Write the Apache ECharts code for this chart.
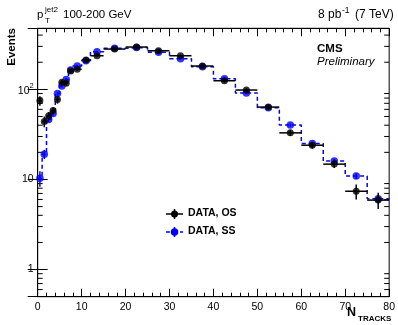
<!DOCTYPE html>
<html><head><meta charset="utf-8">
<script src="https://cdn.jsdelivr.net/npm/echarts@6/dist/echarts.min.js"></script>
<style>html,body{margin:0;padding:0;background:#fff}#c{width:398px;height:325px}</style>
</head><body><div id="c"></div>
<script>
// ---- data ----
const binEdges = [0,1,2,3,4,5,6,7,8,10,12,15,20,25,30,35,40,45,50,55,60,65,70,75,80];
const osValues = [74.7,44,50.9,58.4,77.4,120,117,160,167,212,236,280,295,268,236,181.6,124.6,98.3,63.6,32.9,24,14.8,7.4,5.9];
const osErrors = [9,6,5,5,8,7,7,8,7,8,8,8,8,8,7,6,5,5,4,2.5,2,1.4,1.4,1.2];
const ssValues = [10.3,19.1,46.4,54,90,109,129,164,181.6,208,262,286,291,258,219,178,131,91,62.7,40.1,25.1,16,10.9,6.1];
const ssErrors = [2,2.2,3,3,4,4,4,5,5,5,6,6,6,6,5,5,4,3,2.5,1.5,1.2,1,0.8,0.6];
const xTickInterval = 10;
const logMinorTicks = [0.6,0.7,0.8,0.9,2,3,4,5,6,7,8,9,20,30,40,50,60,70,80,90,200,300,400];
const Y_MIN = 0.5, Y_MAX = 476, X_MIN = 0, X_MAX = 80;

const FONT = "'Liberation Sans', Arial, Helvetica, sans-serif";
const BLUE = '#0000ff';

const bins = binEdges.slice(0, -1).map((lo, i) => ({lo, hi: binEdges[i + 1]}));
const osBox = bins.map((b, i) => [b.lo, b.hi, osValues[i], osErrors[i]]);
const ssBox = bins.map((b, i) => [b.lo, b.hi, ssValues[i], ssErrors[i]]);
const osPts = bins.map((b, i) => [(b.lo + b.hi) / 2, osValues[i]]);
const ssPts = bins.map((b, i) => [(b.lo + b.hi) / 2, ssValues[i]]);
const ssStep = [];
bins.forEach((b, i) => { ssStep.push([b.lo, ssValues[i]]); ssStep.push([b.hi, ssValues[i]]); });

function errRender(color, withH) {
  return function (params, api) {
    const lo = api.value(0), hi = api.value(1), v = api.value(2), e = api.value(3);
    const c = (lo + hi) / 2;
    const ch = [];
    if (withH) {
      const a = api.coord([lo, v]), b = api.coord([hi, v]);
      ch.push({type: 'line', shape: {x1: a[0], y1: a[1], x2: b[0], y2: b[1]}, style: {stroke: color, lineWidth: 1.5}});
    }
    const t = api.coord([c, v + e]), bt = api.coord([c, Math.max(v - e, Y_MIN)]);
    ch.push({type: 'line', shape: {x1: t[0], y1: t[1], x2: bt[0], y2: bt[1]}, style: {stroke: color, lineWidth: 1.5}});
    return {type: 'group', children: ch};
  };
}

function minorRender(params, api) {
  const v = api.value(1);
  const l = api.coord([X_MIN, v]), r = api.coord([X_MAX, v]);
  return {type: 'group', children: [
    {type: 'line', shape: {x1: l[0], y1: l[1], x2: l[0] + 5, y2: l[1]}, style: {stroke: '#000', lineWidth: 1}},
    {type: 'line', shape: {x1: r[0], y1: r[1], x2: r[0] - 5, y2: r[1]}, style: {stroke: '#000', lineWidth: 1}}
  ]};
}

const chart = echarts.init(document.getElementById('c'), null, {renderer: 'canvas'});
const axisLineStyle = {color: '#000', width: 1};
chart.setOption({
  animation: false,
  backgroundColor: '#fff',
  grid: {left: 37.7, right: 4.7, top: 28.3, bottom: 28.3, show: true, borderColor: '#000', borderWidth: 1, containLabel: false},
  xAxis: [
    {type: 'value', min: X_MIN, max: X_MAX, interval: xTickInterval, position: 'bottom',
     axisLine: {show: true, lineStyle: axisLineStyle},
     axisTick: {show: true, inside: true, length: 8, lineStyle: axisLineStyle},
     minorTick: {show: true, splitNumber: 5, length: 4, lineStyle: axisLineStyle},
     splitLine: {show: false},
     axisLabel: {show: true, margin: 5, fontFamily: FONT, fontSize: 10.5, color: '#000', showMinLabel: true, showMaxLabel: true}},
    {type: 'value', min: X_MIN, max: X_MAX, interval: xTickInterval, position: 'top',
     axisLine: {show: true, lineStyle: axisLineStyle},
     axisTick: {show: true, inside: true, length: 8, lineStyle: axisLineStyle},
     minorTick: {show: true, splitNumber: 5, length: 4, lineStyle: axisLineStyle},
     splitLine: {show: false}, axisLabel: {show: false}}
  ],
  yAxis: [
    {type: 'log', logBase: 10, min: Y_MIN, max: Y_MAX, position: 'left',
     axisLine: {show: true, lineStyle: axisLineStyle},
     axisTick: {show: true, inside: true, length: 10, lineStyle: axisLineStyle},
     splitLine: {show: false},
     axisLabel: {show: true, margin: 4, color: '#000', fontFamily: FONT, fontSize: 10.5,
       formatter: function (v) {
         const l = Math.log10(v), e = Math.round(l);
         if (Math.abs(l - e) > 1e-6) return '';
         if (e === 0) return '1';
         if (e === 1) return '10';
         return '{b|10}{s|' + e + '}';
       },
       rich: {
         b: {fontFamily: FONT, fontSize: 10.5, color: '#000', lineHeight: 14, verticalAlign: 'bottom'},
         s: {fontFamily: FONT, fontSize: 7.5, color: '#000', lineHeight: 8, verticalAlign: 'top'}
       }}},
    {type: 'log', logBase: 10, min: Y_MIN, max: Y_MAX, position: 'right',
     axisLine: {show: true, lineStyle: axisLineStyle},
     axisTick: {show: true, inside: true, length: 10, lineStyle: axisLineStyle},
     splitLine: {show: false}, axisLabel: {show: false}}
  ],
  series: [
    {type: 'custom', name: 'minorTicks', xAxisIndex: 0, yAxisIndex: 0, renderItem: minorRender,
     data: logMinorTicks.map(v => [X_MIN, v]), encode: {x: 0, y: 1}, silent: true, z: 1},
    {type: 'line', name: 'DATA, SS step', xAxisIndex: 0, yAxisIndex: 0, data: ssStep, symbol: 'none',
     lineStyle: {color: BLUE, width: 1.5, type: [4, 3]}, z: 2},
    {type: 'custom', name: 'SS err', xAxisIndex: 0, yAxisIndex: 0, renderItem: errRender(BLUE, false),
     data: ssBox, encode: {x: 0, y: 2}, z: 3},
    {type: 'scatter', name: 'DATA, SS', xAxisIndex: 0, yAxisIndex: 0, data: ssPts, symbol: 'circle', symbolSize: 7.5,
     itemStyle: {color: BLUE}, z: 4},
    {type: 'custom', name: 'OS err', xAxisIndex: 0, yAxisIndex: 0, renderItem: errRender('#000', true),
     data: osBox, encode: {x: 0, y: 2}, z: 5},
    {type: 'scatter', name: 'DATA, OS', xAxisIndex: 0, yAxisIndex: 0, data: osPts, symbol: 'circle', symbolSize: 7,
     itemStyle: {color: '#000'}, z: 6}
  ],
  graphic: [
    // top-left label
    {type: 'text', left: 37, top: 9, style: {text: 'p', font: '11.5px ' + FONT, fill: '#000'}},
    {type: 'text', left: 45, top: 5.5, style: {text: 'jet2', font: '8px ' + FONT, fill: '#000'}},
    {type: 'text', left: 45, top: 17, style: {text: 'T', font: '8px ' + FONT, fill: '#000'}},
    {type: 'text', left: 63, top: 9, style: {text: '100-200 GeV', font: '11.5px ' + FONT, fill: '#000'}},
    // top-right label
    {type: 'text', left: 318, top: 8.5, style: {text: '8 pb', font: '12px ' + FONT, fill: '#000'}},
    {type: 'text', left: 342, top: 6, style: {text: '-1', font: '8.5px ' + FONT, fill: '#000'}},
    {type: 'text', left: 355, top: 8.5, style: {text: '(7 TeV)', font: '12px ' + FONT, fill: '#000'}},
    // CMS
    {type: 'text', left: 317, top: 43, style: {text: 'CMS', font: 'bold 11.5px ' + FONT, fill: '#000'}},
    {type: 'text', left: 317, top: 56, style: {text: 'Preliminary', font: 'italic 11.5px ' + FONT, fill: '#000'}},
    // y title
    {type: 'text', x: 12, y: 28, rotation: Math.PI / 2,
     style: {text: 'Events', font: 'bold 11.5px ' + FONT, fill: '#000', align: 'right', verticalAlign: 'middle'}},
    // x title
    {type: 'text', left: 347, top: 306, style: {text: 'N', font: 'bold 12.5px ' + FONT, fill: '#000'}},
    {type: 'text', left: 358, top: 315, style: {text: 'TRACKS', font: 'bold 8px ' + FONT, fill: '#000'}},
    // legend
    {type: 'line', shape: {x1: 166, y1: 214, x2: 183, y2: 214}, style: {stroke: '#000', lineWidth: 1.5}},
    {type: 'line', shape: {x1: 174.5, y1: 209, x2: 174.5, y2: 219}, style: {stroke: '#000', lineWidth: 1.5}},
    {type: 'circle', shape: {cx: 174.5, cy: 214, r: 3.5}, style: {fill: '#000'}},
    {type: 'text', left: 188, top: 208, style: {text: 'DATA, OS', font: 'bold 10.5px ' + FONT, fill: '#000'}},
    {type: 'line', shape: {x1: 166, y1: 232, x2: 183, y2: 232}, style: {stroke: BLUE, lineWidth: 1.5, lineDash: [4, 3]}},
    {type: 'line', shape: {x1: 174.5, y1: 227, x2: 174.5, y2: 237}, style: {stroke: BLUE, lineWidth: 1.5}},
    {type: 'circle', shape: {cx: 174.5, cy: 232, r: 3.75}, style: {fill: BLUE}},
    {type: 'text', left: 188, top: 226, style: {text: 'DATA, SS', font: 'bold 10.5px ' + FONT, fill: '#000'}}
  ]
});
</script>
</body></html>
